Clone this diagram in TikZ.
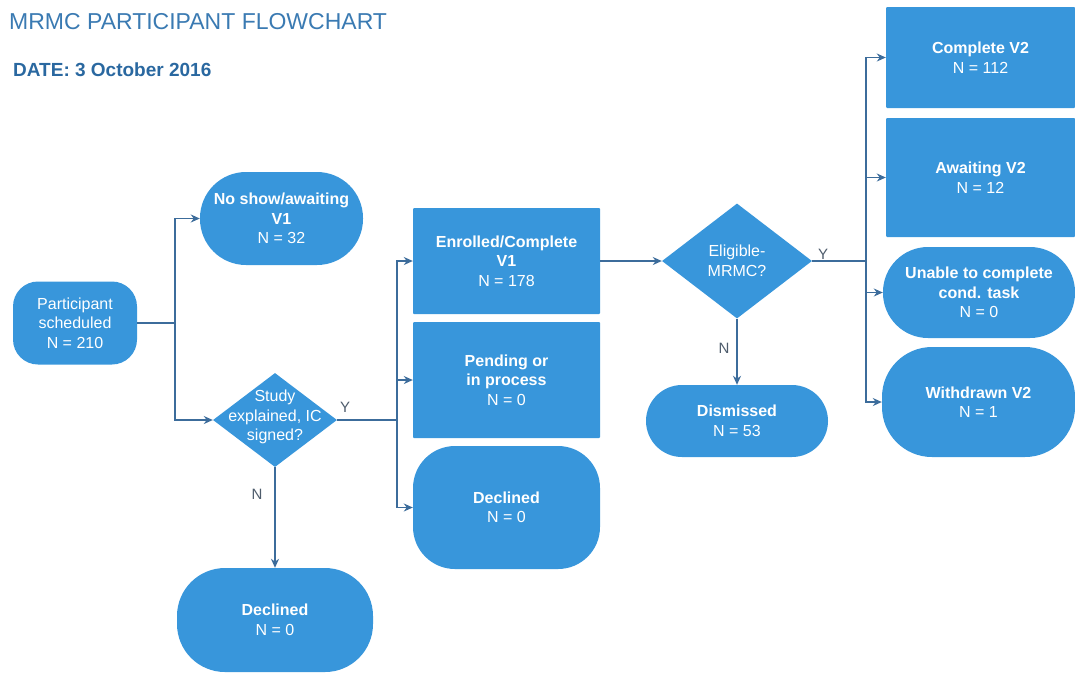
\documentclass[tikz,border=0pt]{standalone}
\usepackage{fontspec}
\setmainfont{Liberation Sans}
\usetikzlibrary{shapes.geometric,arrows.meta}
\definecolor{boxblue}{RGB}{56,150,219}
\definecolor{lineblue}{RGB}{60,108,155}
\definecolor{titleblue}{RGB}{58,122,178}
\definecolor{dateblue}{RGB}{42,104,160}
\definecolor{labelgrey}{RGB}{78,92,108}
\begin{document}
\begin{tikzpicture}[x=1pt,y=-1pt,
    flowbox/.style={fill=boxblue,text=white,align=center,inner sep=0pt,font=\fontsize{16}{19.5}\selectfont},
    sqbox/.style={flowbox,rounded corners=1pt},
    pill/.style={flowbox,rounded corners=#1},
    decision/.style={flowbox,diamond},
    yn/.style={text=labelgrey,inner sep=0pt,font=\fontsize{15}{15}\selectfont},
    conn/.style={draw=lineblue,line width=1.5pt},
    >={Stealth[length=9pt,width=8pt]}]
    \useasboundingbox (0,0) rectangle (1075,673);
    \node[anchor=west,inner sep=0pt,text=titleblue,font=\fontsize{23}{23}\selectfont] (title) at (9,22) {MRMC PARTICIPANT FLOWCHART};
    \node[anchor=west,inner sep=0pt,text=dateblue,font=\bfseries\fontsize{19}{19}\selectfont] (date) at (13,70) {DATE: 3 October 2016};
    \node[pill=25pt,minimum width=124pt,minimum height=83pt] (part) at (75,323) {Participant\\scheduled\\N = 210};
    \node[pill=46pt,minimum width=163pt,minimum height=93pt] (noshow) at (281.5,218.5) {\textbf{No show/awaiting}\\\textbf{V1}\\N = 32};
    \node[decision,minimum width=124pt,minimum height=94pt] (study) at (275,420) {};
    \node[flowbox,fill=none] (studytxt) at ([yshift=3]study) {Study\\explained, IC\\signed?};
    \node[pill=48pt,minimum width=196pt,minimum height=104pt] (declb) at (275,620) {\textbf{Declined}\\N = 0};
    \node[sqbox,minimum width=187pt,minimum height=106pt] (enr) at (506.5,261) {\textbf{Enrolled/Complete}\\\textbf{V1}\\N = 178};
    \node[sqbox,minimum width=187pt,minimum height=116pt] (pend) at (506.5,380) {\textbf{Pending or}\\\textbf{in process}\\N = 0};
    \node[pill=42pt,minimum width=187pt,minimum height=123pt] (declm) at (506.5,507.5) {\textbf{Declined}\\N = 0};
    \node[decision,minimum width=150pt,minimum height=115pt] (elig) at (737,261) {};
    \node[flowbox,fill=none] (eligtxt) at (elig) {Eligible-\\MRMC?};
    \node[pill=36pt,minimum width=182pt,minimum height=72pt] (dism) at (737,421) {\textbf{Dismissed}\\N = 53};
    \node[sqbox,minimum width=189pt,minimum height=101pt] (cv2) at (980.5,57.5) {\textbf{Complete V2}\\N = 112};
    \node[sqbox,minimum width=189pt,minimum height=119pt] (aw2) at (980.5,177.5) {\textbf{Awaiting V2}\\N = 12};
    \node[pill=45pt,minimum width=192pt,minimum height=91pt] (unable) at (979,292.5) {\textbf{Unable to complete}\\\textbf{cond. task}\\N = 0};
    \node[pill=50pt,minimum width=193pt,minimum height=110pt] (wd2) at (978.5,402) {\textbf{Withdrawn V2}\\N = 1};
    \coordinate (fork1) at (175,323);
    \coordinate (fork2) at (397,420);
    \coordinate (fork3) at (866,261);
    \draw[conn] (part.east) -- (fork1);
    \draw[conn,->] (fork1) |- (noshow.west);
    \draw[conn,->] (fork1) |- (study.west);
    \draw[conn] (study.east) -- (fork2);
    \draw[conn,->] (fork2) |- (enr.west);
    \draw[conn,->] (fork2) |- (pend.west);
    \draw[conn,->] (fork2) |- (declm.west);
    \draw[conn,->] (study.south) -- (declb.north);
    \draw[conn,->] (enr.east) -- (elig.west);
    \draw[conn] (elig.east) -- (fork3);
    \draw[conn,->] (fork3) |- (cv2.west);
    \draw[conn,->] (fork3) |- (aw2.west);
    \draw[conn,->] (fork3) |- (unable.west);
    \draw[conn,->] (fork3) |- (wd2.west);
    \draw[conn,->] (elig.south) -- (dism.north);
    \node[yn] (y1) at (345,407) {Y};
    \node[yn] (n1) at (257,494) {N};
    \node[yn] (y2) at (823,254) {Y};
    \node[yn] (n2) at (724,348) {N};
\end{tikzpicture}
\end{document}
